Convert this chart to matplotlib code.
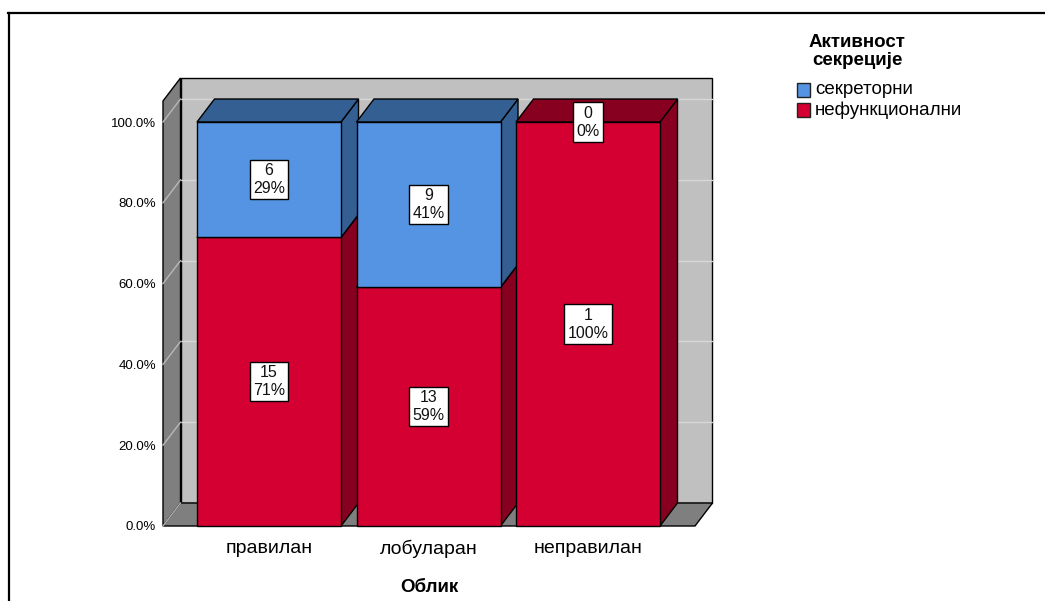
import matplotlib
matplotlib.use("Agg")
import matplotlib.pyplot as plt
from matplotlib.patches import Polygon, Rectangle
from matplotlib.lines import Line2D

plt.rcParams['font.family'] = ['Liberation Sans', 'DejaVu Sans']

# ---- data -------------------------------------------------------------
categories = ["правилан", "лобуларан", "неправилан"]
counts_nonfunctional = [15, 13, 1]
counts_secretory = [6, 9, 0]
series_names = ["нефункционални", "секреторни"]          # stacking order, bottom -> top
series_counts = [counts_nonfunctional, counts_secretory]
legend_title = "Активност\nсекреције"
x_title = "Облик"
y_ticks = [0, 20, 40, 60, 80, 100]
y_tick_labels = ["0.0%", "20.0%", "40.0%", "60.0%", "80.0%", "100.0%"]

# ---- styling ----------------------------------------------------------
front_color = {"нефункционални": "#D50032", "секреторни": "#5594E2"}
shade_color = {"нефункционални": "#870020", "секреторни": "#345F93"}
back_wall = "#C0C0C0"
side_wall = "#7F7F7F"

W, H = 1045, 601
fig = plt.figure(figsize=(W / 100, H / 100), dpi=100)
fig.patch.set_facecolor("white")

# front plane of the 3D box, in pixels
L, R, B, T = 163, 695, 526, 101
ax = fig.add_axes([L / W, 1 - B / H, (R - L) / W, (B - T) / H])
X0, X1 = -0.6646, 2.6708
YMAX = 105.2
ax.set_xlim(X0, X1)
ax.set_ylim(0, YMAX)
ax.patch.set_visible(False)
for s in ax.spines.values():
    s.set_visible(False)

px_x = (R - L) / (X1 - X0)
px_y = (B - T) / YMAX
DX = 17.5 / px_x      # depth offset, right
DY = 23.0 / px_y      # depth offset, up
bar_w = 144 / px_x

def poly(pts, fc, z, lw=1.0):
    ax.add_patch(Polygon(pts, closed=True, facecolor=fc, edgecolor="black",
                         linewidth=lw, zorder=z, clip_on=False,
                         joinstyle="miter"))

# walls and floor
poly([(X0 + DX, DY), (X1 + DX, DY), (X1 + DX, YMAX + DY), (X0 + DX, YMAX + DY)],
     back_wall, 0)
poly([(X0, 0), (X0 + DX, DY), (X0 + DX, YMAX + DY), (X0, YMAX)], side_wall, 0.5)
poly([(X0, 0), (X1, 0), (X1 + DX, DY), (X0 + DX, DY)], side_wall, 0.5)

# grid lines on the back wall and the left wall
for t in y_ticks[1:]:
    ax.plot([X0 + DX, X1 + DX], [t + DY, t + DY], color="#D8D8D8", lw=1.0,
            zorder=0.2, clip_on=False)
for t in y_ticks:
    ax.plot([X0, X0 + DX], [t, t + DY], color="#B8B8B8", lw=1.0,
            zorder=0.7, clip_on=False)

# stacked 3D bars
for i, cat in enumerate(categories):
    total = sum(c[i] for c in series_counts)
    bottom = 0.0
    xl, xr = i - bar_w / 2, i + bar_w / 2
    for name, counts in zip(series_names, series_counts):
        n = counts[i]
        pct = 100.0 * n / total
        top = bottom + pct
        if pct > 0:
            poly([(xr, bottom), (xr + DX, bottom + DY), (xr + DX, top + DY), (xr, top)],
                 shade_color[name], 2)
            poly([(xl, top), (xr, top), (xr + DX, top + DY), (xl + DX, top + DY)],
                 shade_color[name], 2)
            poly([(xl, bottom), (xr, bottom), (xr, top), (xl, top)],
                 front_color[name], 2.5)
        ax.text(i, bottom + pct / 2, f"{n}\n{round(pct)}%", ha="center", va="center",
                fontsize=11.5, linespacing=1.25, zorder=5, color="#111111",
                bbox=dict(boxstyle="square,pad=0.2", facecolor="white",
                          edgecolor="black", linewidth=1.0))
        bottom = top

# axes ticks and titles
ax.set_yticks(y_ticks)
ax.set_yticklabels(y_tick_labels, fontsize=9.5)
ax.set_xticks(range(len(categories)))
ax.set_xticklabels(categories, fontsize=14)
ax.tick_params(axis="y", length=0, pad=5)
ax.tick_params(axis="x", length=0, pad=10)
ax.set_xlabel(x_title, fontsize=13.5, fontweight="bold", labelpad=15)

# legend
def fx(px):
    return px / W

def fy(py):
    return 1 - py / H

fig.text(fx(857), fy(51.5), legend_title, ha="center", va="center", fontsize=13.5,
         fontweight="bold", linespacing=1.12)
legend_items = list(zip(series_names, series_counts))[::-1]
for k, (name, _) in enumerate(legend_items):
    top_px = 83 + 20 * k
    fig.add_artist(Rectangle((fx(797), fy(top_px + 14)), 13 / W, 14 / H,
                             facecolor=front_color[name], edgecolor="#222222",
                             linewidth=1.0, transform=fig.transFigure))
    fig.text(fx(815), fy(top_px + 7), name, ha="left", va="center", fontsize=13.5)

# outer frame
fig.add_artist(Line2D([fx(8), fx(1045)], [fy(13), fy(13)], color="black", lw=1.6,
                      transform=fig.transFigure))
fig.add_artist(Line2D([fx(8.5), fx(8.5)], [fy(13), fy(601)], color="black", lw=1.6,
                      transform=fig.transFigure))

fig.savefig("out.png", dpi=100)
